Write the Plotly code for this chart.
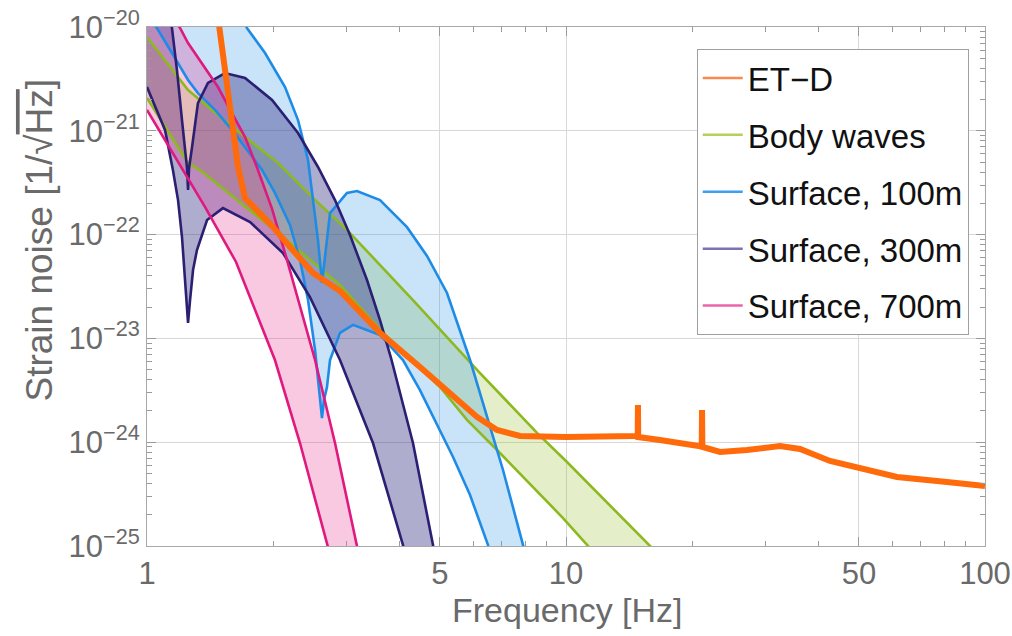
import plotly.graph_objects as go

# ---------------- data (frequency in Hz, strain noise in 1/sqrt(Hz)) ----------------
etd_f = [1.469, 1.552, 1.595, 1.649, 1.714, 1.830, 2.00, 2.194, 2.490, 2.888, 3.598, 4.482,
         4.922, 5.375, 6.133, 6.845, 7.768, 10, 12.06, 14.61, 14.83, 14.85, 14.87, 16.76,
         20.10, 21.08, 21.12, 21.16, 23.31, 27.04, 32.41, 36.18, 42.67, 49.50, 61.66, 81.17, 100]
etd_h = [1.46e-20, 2.64e-21, 1.02e-21, 4.48e-22, 2.25e-22, 1.73e-22, 1.18e-22, 7.60e-23,
         4.27e-23, 2.86e-23, 1.13e-23, 5.30e-24, 3.80e-24, 2.73e-24, 1.75e-24, 1.31e-24,
         1.15e-24, 1.12e-24, 1.15e-24, 1.15e-24, 1.14e-24, 2.28e-24, 1.12e-24, 1.05e-24,
         9.19e-25, 9.10e-25, 2.04e-24, 8.99e-25, 8.05e-25, 8.41e-25, 9.19e-25, 8.60e-25,
         6.59e-25, 5.64e-25, 4.62e-25, 4.14e-25, 3.79e-25]

body_up_f = [1, 1.104, 1.253, 1.429, 1.714, 2.054, 2.463, 3.001, 4.313, 6.235, 8.527, 10, 15.87, 16.31]
body_up_h = [8.01e-21, 4.81e-21, 2.47e-21, 1.59e-21, 8.71e-22, 4.90e-22, 2.35e-22, 1.11e-22,
             2.34e-23, 4.64e-24, 1.23e-24, 6.59e-25, 1.00e-25, 8.95e-26]
body_lo_f = [1, 1.253, 1.338, 2.111, 2.888, 3.658, 5.004, 5.803, 6.845, 9.837, 11.29, 11.47]
body_lo_h = [2.07e-21, 4.90e-22, 4.19e-22, 9.48e-23, 3.27e-23, 1.13e-23, 3.40e-24, 1.64e-24,
             8.41e-25, 1.86e-25, 1.00e-25, 8.95e-26]

s100_up_f = [1.667, 1.732, 1.913, 2.135, 2.293, 2.423, 2.490, 2.559, 2.616, 2.674, 2.734, 3.001,
             3.171, 3.598, 3.951, 4.174, 4.659, 5.200, 5.902, 6.587, 7.074, 7.898, 7.942]
s100_up_h = [1.39e-20, 9.78e-21, 5.62e-21, 2.64e-21, 1.27e-21, 5.23e-22, 2.15e-22, 8.87e-23,
             3.42e-23, 7.94e-23, 1.61e-22, 2.52e-22, 2.63e-22, 2.15e-22, 1.48e-22, 1.18e-22,
             6.22e-23, 2.74e-23, 6.19e-24, 1.40e-24, 5.40e-25, 1.02e-25, 8.95e-26]
s100_lo_f = [1.017, 1.056, 1.147, 1.253, 1.323, 1.453, 1.595, 1.714, 1.882, 2.020, 2.194, 2.318,
             2.423, 2.518, 2.573, 2.616, 2.645, 2.689, 2.734, 2.888, 3.102, 3.598, 4.083, 4.482,
             5.375, 5.902, 6.515, 6.551]
s100_lo_h = [1.17e-20, 9.78e-21, 5.62e-21, 3.09e-21, 2.31e-21, 1.59e-21, 1.02e-21, 6.98e-22,
             4.19e-22, 2.52e-22, 1.24e-22, 5.69e-23, 2.34e-23, 7.73e-24, 3.56e-24, 1.71e-24,
             2.55e-24, 3.40e-24, 6.19e-24, 1.13e-23, 1.35e-23, 1.08e-23, 6.19e-24, 3.18e-24,
             7.20e-25, 3.10e-25, 1.02e-25, 8.95e-26]

s300_up_f = [1, 1.074, 1.147, 1.179, 1.212, 1.246, 1.253, 1.260, 1.281, 1.323, 1.398, 1.535,
             1.714, 1.988, 2.293, 2.559, 2.810, 3.051, 3.350, 3.598, 3.823, 4.313, 4.815, 4.842]
s300_up_h = [1.67e-19, 6.88e-20, 9.78e-21, 3.85e-21, 1.27e-21, 4.38e-22, 2.69e-22, 4.38e-22,
             6.98e-22, 1.85e-21, 2.89e-21, 3.60e-21, 3.23e-21, 1.98e-21, 9.52e-22, 4.48e-22,
             2.15e-22, 9.91e-23, 3.65e-23, 1.50e-23, 6.47e-24, 9.82e-25, 1.02e-25, 8.95e-26]
s300_lo_f = [1, 1.104, 1.153, 1.186, 1.212, 1.232, 1.253, 1.267, 1.288, 1.316, 1.391, 1.518,
             1.762, 2.111, 2.449, 2.888, 3.462, 4.083, 4.106]
s300_lo_h = [2.64e-21, 1.02e-21, 4.19e-22, 2.15e-22, 9.48e-23, 3.65e-23, 1.41e-23, 2.34e-23,
             4.56e-23, 7.11e-23, 1.38e-22, 1.80e-22, 1.32e-22, 6.65e-23, 2.50e-23, 6.19e-24,
             9.82e-25, 1.02e-25, 8.95e-26]

s700_up_f = [1, 1.199, 1.253, 1.353, 1.477, 1.595, 1.714, 1.840, 1.988, 2.159, 2.518, 2.810, 3.171, 3.189]
s700_up_h = [3.17e-20, 9.78e-21, 7.01e-21, 4.50e-21, 2.64e-21, 1.48e-21, 8.71e-22, 4.19e-22,
             1.77e-22, 5.69e-23, 6.19e-24, 9.82e-25, 1.02e-25, 8.95e-26]
s700_lo_f = [1, 1.104, 1.219, 1.375, 1.631, 1.892, 2.020, 2.318, 2.704, 2.719]
s700_lo_h = [1.59e-21, 8.15e-22, 4.19e-22, 1.85e-22, 5.45e-23, 1.20e-23, 6.19e-24, 9.82e-25,
             1.02e-25, 8.95e-26]

x_ticks = [1, 5, 10, 50, 100]
x_minor = [2, 3, 4, 6, 7, 8, 9, 20, 30, 40, 60, 70, 80, 90]
y_exps = [-25, -24, -23, -22, -21, -20]

legend_names = ["ET\u2212D", "Body waves", "Surface, 100m", "Surface, 300m", "Surface, 700m"]
legend_colors = ["#F98A4E", "#B2D05A", "#3DA0EE", "#7D72B4", "#EC64AA"]

# ---------------- styles ----------------
FONT = "Liberation Sans, Arial, sans-serif"
C_ETD = "#FF6A0A"
C_BODY = "#8DB91E"
C_100 = "#1E8CE6"
C_300 = "#2B1F73"
C_700 = "#E0197F"

fig = go.Figure()

def band(fu, hu, fl, hl, fillcolor):
    fig.add_trace(go.Scatter(x=list(fu) + list(fl)[::-1], y=list(hu) + list(hl)[::-1],
                             mode="lines", fill="toself", fillcolor=fillcolor,
                             line=dict(width=0), hoverinfo="skip", showlegend=False))

band(body_up_f, body_up_h, body_lo_f, body_lo_h, "rgba(141,185,30,0.24)")
band(s100_up_f, s100_up_h, s100_lo_f, s100_lo_h, "rgba(30,140,230,0.24)")
band(s300_up_f, s300_up_h, s300_lo_f, s300_lo_h, "rgba(45,40,125,0.38)")
band(s700_up_f, s700_up_h, s700_lo_f, s700_lo_h, "rgba(230,30,135,0.24)")

def line(f, h, color, width=2.6):
    fig.add_trace(go.Scatter(x=f, y=h, mode="lines", line=dict(color=color, width=width),
                             showlegend=False, hoverinfo="skip"))

line(body_up_f, body_up_h, C_BODY)
line(body_lo_f, body_lo_h, C_BODY)
line(s100_up_f, s100_up_h, C_100)
line(s100_lo_f, s100_lo_h, C_100)
line(s300_up_f, s300_up_h, C_300)
line(s300_lo_f, s300_lo_h, C_300)
line(s700_up_f, s700_up_h, C_700)
line(s700_lo_f, s700_lo_h, C_700)
line(etd_f, etd_h, C_ETD, width=6)

for i, (name, col) in enumerate(zip(legend_names, legend_colors)):
    fig.add_trace(go.Scatter(x=[None], y=[None], mode="lines", name=name,
                             line=dict(color=col, width=2.5), legendgroup=f"g{i}"))

y_minor = [k * 10.0 ** e for e in range(-25, -20) for k in range(2, 10)]

axis_common = dict(
    type="log", showgrid=True, gridcolor="#d8d8d8", gridwidth=1, automargin=False,
    ticks="inside", ticklen=9, tickwidth=1, tickcolor="#9a9a9a",
    showline=True, linecolor="#a8a8a8", linewidth=1, mirror="ticks", zeroline=False,
    tickfont=dict(family=FONT, size=31, color="#6a6a6a"),
)
fig.update_xaxes(**axis_common, range=[0, 2], tickmode="array", tickvals=x_ticks,
                 ticktext=[str(v) for v in x_ticks],
                 minor=dict(tickmode="array", tickvals=x_minor, ticks="inside", ticklen=5,
                            tickcolor="#9a9a9a", showgrid=False))
fig.update_yaxes(**axis_common, range=[-25, -20], tickmode="array",
                 tickvals=[10.0 ** e for e in y_exps],
                 ticktext=[f"10<sup>\u2212{abs(e)}</sup>" for e in y_exps],
                 minor=dict(tickmode="array", tickvals=y_minor, ticks="inside", ticklen=5,
                            tickcolor="#9a9a9a", showgrid=False))

fig.add_annotation(text="Frequency [Hz]", xref="paper", yref="paper", x=0.502, y=-0.124,
                   xanchor="center", yanchor="middle", showarrow=False,
                   font=dict(family=FONT, size=34, color="#6a6a6a"))
fig.add_annotation(text="Strain noise [1/\u221a<span style='text-decoration:overline'>Hz</span>]",
                   xref="paper", yref="paper", x=-0.128, y=0.59, textangle=-90,
                   xanchor="center", yanchor="middle", showarrow=False,
                   font=dict(family=FONT, size=37, color="#6a6a6a"))

fig.update_layout(
    width=1012, height=636,
    margin=dict(l=147, r=27, t=27, b=90, autoexpand=False),
    paper_bgcolor="white", plot_bgcolor="white",
    font=dict(family=FONT),
    showlegend=True,
    legend=dict(x=0.656, y=0.9576, xanchor="left", yanchor="top",
                bgcolor="white", bordercolor="#a0a0a0", borderwidth=1,
                font=dict(family=FONT, size=33, color="#111111"),
                tracegroupgap=11, itemclick=False, itemwidth=40),
)

fig.write_html("out.html")
